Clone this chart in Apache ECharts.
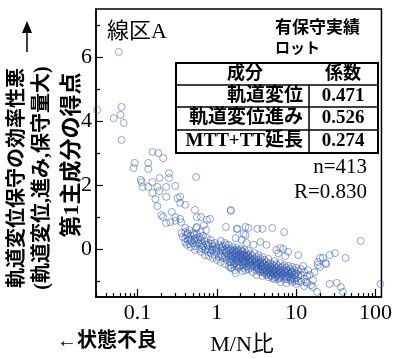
<!DOCTYPE html>
<html>
<head>
<meta charset="utf-8">
<script src="https://cdn.jsdelivr.net/npm/echarts@6/dist/echarts.min.js"></script>
<style>
  html, body { margin: 0; padding: 0; background: #fff; }
  #chart { width: 395px; height: 358px; }
</style>
</head>
<body>
<div id="chart"></div>
<script>
// M/N ratio vs. first principal component score
const points = [
  [0.031, 4.34], [0.05, 4.09], [0.063, 4.44], [0.061, 4.19], [0.067, 3.94], [0.063, 3.41], [0.058, 6.16],
  [0.154, 3.03], [0.183, 3.0], [0.21, 2.84], [0.092, 2.69], [0.089, 2.53], [0.137, 2.69], [0.137, 2.5],
  [0.25, 2.37], [0.25, 2.22], [0.55, 2.25], [0.11, 2.16], [0.113, 2.09], [0.154, 2.09], [0.19, 2.22],
  [0.116, 1.94], [0.137, 1.94], [0.178, 1.94], [0.23, 1.94], [0.3, 1.97], [0.154, 1.75], [0.188, 1.81],
  [0.168, 1.56], [0.23, 1.63], [0.178, 1.34], [0.345, 1.63], [0.345, 1.44], [0.4, 1.38], [0.2, 1.06],
  [0.21, 1.0], [0.27, 1.16], [0.3, 1.0], [0.23, 0.81], [0.26, 0.84], [0.3, 0.88], [0.345, 0.94], [0.32, 1.59],
  [0.53, 1.22], [0.56, 1.0], [0.63, 1.0], [0.82, 0.94], [0.4, 0.66], [0.36, 0.5], [0.37, 0.38], [0.55, 0.66],
  [0.69, 0.75], [0.73, 0.59], [0.75, 0.91], [0.56, 0.69], [0.355, 0.84], [1.5, 1.19], [1.3, 0.69],
  [1.78, 0.63], [2.3, 0.69],
  [0.4, 0.53], [0.4, 0.34], [0.4, 0.22], [0.42, 0.44], [0.42, 0.13], [0.45, 0.59], [0.45, 0.31], [0.45, 0.16],
  [0.47, 0.41], [0.47, 0.25], [0.47, 0.06], [0.5, 0.5], [0.5, 0.19], [0.53, 0.34], [0.53, 0.09], [0.53, -0.03],
  [0.56, 0.47], [0.56, 0.25], [0.6, 0.38], [0.6, 0.16], [0.6, 0.0], [0.63, 0.53], [0.63, 0.28], [0.63, -0.09],
  [0.67, 0.41], [0.67, 0.09], [0.71, 0.25], [0.71, -0.03], [0.71, -0.19], [0.75, 0.34], [0.75, 0.13],
  [0.79, 0.19], [0.79, 0.0], [0.79, -0.22], [0.84, 0.28], [0.84, -0.13], [0.89, 0.09], [0.89, -0.03],
  [0.89, -0.28], [0.94, 0.19], [0.94, -0.19], [1.0, 0.03], [1.0, -0.09], [1.0, -0.34], [1.06, 0.13], [1.06, -0.25],
  [1.12, 0.25], [1.12, 0.0], [1.12, -0.16], [1.12, -0.41], [1.19, 0.09], [1.19, -0.06], [1.19, -0.28],
  [1.26, 0.19], [1.26, -0.03], [1.26, -0.22], [1.26, -0.47], [1.33, 0.03], [1.33, -0.13], [1.33, -0.34],
  [1.41, 0.13], [1.41, -0.06], [1.41, -0.19], [1.41, -0.28], [1.41, -0.53], [1.5, 0.0], [1.5, -0.13],
  [1.5, -0.25], [1.5, -0.41], [1.5, -0.59], [1.58, 0.06], [1.58, -0.09], [1.58, -0.22], [1.58, -0.34],
  [1.68, -0.03], [1.68, -0.16], [1.68, -0.28], [1.68, -0.44], [1.68, -0.66], [1.78, 0.03], [1.78, -0.09],
  [1.78, -0.25], [1.78, -0.38], [1.78, -0.53], [1.88, -0.06], [1.88, -0.19], [1.88, -0.31], [1.88, -0.47],
  [1.88, -0.59], [2.0, 0.0], [2.0, -0.16], [2.0, -0.28], [2.0, -0.41], [2.11, -0.09], [2.11, -0.22],
  [2.11, -0.34], [2.11, -0.5], [2.11, -0.69], [2.24, -0.03], [2.24, -0.19], [2.24, -0.31], [2.24, -0.44],
  [2.37, -0.13], [2.37, -0.25], [2.37, -0.41], [2.37, -0.56], [2.51, -0.06], [2.51, -0.22], [2.51, -0.34],
  [2.51, -0.47], [2.51, -0.63],
  [1.5, 1.22], [1.83, 0.63], [2.51, 0.66], [1.73, 0.34], [2.3, 0.44], [2.17, 0.47], [2.05, 0.28], [3.25, 0.63],
  [3.76, 0.63], [2.9, 0.13], [3.55, 0.22], [2.37, 0.19], [1.73, -0.75], [2.3, -0.66], [1.54, -0.59],
  [2.66, -0.16], [2.66, -0.28], [2.66, -0.44], [2.66, -0.59], [2.82, -0.22], [2.82, -0.38], [2.82, -0.5],
  [2.82, -0.72], [2.99, -0.13], [2.99, -0.31], [2.99, -0.44], [2.99, -0.56], [3.16, -0.25], [3.16, -0.41],
  [3.16, -0.53], [3.16, -0.66], [3.16, -0.81], [3.35, -0.19], [3.35, -0.34], [3.35, -0.47], [3.35, -0.63],
  [3.55, -0.31], [3.55, -0.44], [3.55, -0.56], [3.55, -0.72], [3.76, -0.25], [3.76, -0.41], [3.76, -0.53],
  [3.76, -0.66], [3.76, -0.84], [3.98, -0.34], [3.98, -0.5], [3.98, -0.63], [3.98, -0.75], [4.22, -0.41],
  [4.22, -0.53], [4.22, -0.66], [4.22, -0.81], [4.47, -0.31], [4.47, -0.47], [4.47, -0.59], [4.47, -0.72],
  [4.47, -0.88], [4.73, -0.44], [4.73, -0.56], [4.73, -0.69], [4.73, -0.81], [5.01, -0.5], [5.01, -0.63],
  [5.01, -0.75], [5.01, -0.91], [5.31, -0.38], [5.31, -0.53], [5.31, -0.66], [5.31, -0.78], [5.31, -0.94],
  [5.62, -0.47], [5.62, -0.59], [5.62, -0.72], [5.62, -0.84], [5.96, -0.53], [5.96, -0.66], [5.96, -0.78],
  [5.96, -0.94], [6.31, -0.44], [6.31, -0.59], [6.31, -0.72], [6.31, -0.88], [6.31, -1.03], [6.68, -0.56],
  [6.68, -0.69], [6.68, -0.81], [7.08, -0.5], [7.08, -0.66], [7.08, -0.78], [7.08, -0.94], [7.5, -0.59],
  [7.5, -0.75], [7.5, -0.88], [7.5, -1.06], [7.94, -0.53], [7.94, -0.69], [7.94, -0.84], [8.41, -0.63],
  [8.41, -0.78], [8.41, -0.97], [8.91, -0.56], [8.91, -0.72], [8.91, -0.88], [8.91, -1.03], [9.44, -0.66],
  [9.44, -0.81], [9.44, -0.94], [10.0, -0.59], [10.0, -0.75], [10.0, -0.91], [10.0, -1.09], [10.6, -0.69],
  [10.6, -0.84], [10.6, -1.0], [11.5, -0.63], [11.5, -0.81], [11.5, -1.03], [12.6, -0.72], [12.6, -0.94],
  [12.6, -1.16], [13.7, -0.84], [13.7, -1.06],
  [5.0, 0.66], [7.08, 0.53], [4.22, 0.13], [6.31, 0.03], [5.62, -0.03], [7.3, -0.22], [10.6, -0.19],
  [5.96, -0.13], [7.94, -0.09], [6.88, 0.0],
  [20, -0.28], [26.5, -0.19], [30.8, -0.13], [23.7, -0.44], [18.8, -0.5], [21.7, -0.28], [18.8, -0.41],
  [23.7, -0.47], [20, -0.56], [42, -0.28], [65, 0.25], [115, -1.09], [26.5, -1.09], [32.5, -1.06],
  [36.5, -1.19], [38.7, -1.34], [13.3, -1.03], [16.3, -0.97], [16.3, -1.19], [18.3, -1.34], [15.4, -1.13],
  [14.1, -0.66], [14.9, -0.81], [17, -0.72], [12.2, -0.53],
  [1.15, 0.06], [1.15, -0.22], [1.29, -0.09], [1.29, 0.13], [1.45, -0.03], [1.45, -0.41], [1.54, -0.19],
  [1.54, -0.31], [1.63, -0.06], [1.63, -0.5], [1.73, -0.13], [1.73, -0.22], [1.73, -0.34], [1.83, -0.03],
  [1.83, -0.41], [1.94, -0.16], [1.94, -0.25], [1.94, -0.53], [2.05, -0.06], [2.05, -0.31], [2.17, -0.16],
  [2.17, -0.41], [2.17, -0.59], [2.3, -0.25], [2.3, -0.38], [2.44, -0.19], [2.44, -0.53], [2.58, -0.28],
  [2.58, -0.41], [2.74, -0.34], [2.74, -0.53], [3.07, -0.38], [3.07, -0.5], [3.25, -0.47], [3.25, -0.59],
  [3.45, -0.41], [3.45, -0.69], [3.65, -0.53], [3.65, -0.63], [3.87, -0.44], [3.87, -0.72], [4.1, -0.59],
  [4.1, -0.69], [4.34, -0.53], [4.34, -0.78], [4.6, -0.63], [4.6, -0.75], [4.87, -0.56], [4.87, -0.84],
  [5.16, -0.69], [5.16, -0.78], [5.46, -0.63], [5.46, -0.88], [5.79, -0.72], [5.79, -0.81], [6.13, -0.66],
  [6.13, -0.91], [6.5, -0.75], [6.5, -0.84], [7.3, -0.72], [7.3, -0.84], [7.7, -0.66], [7.7, -0.94],
  [8.2, -0.78], [8.2, -0.88], [8.66, -0.72], [8.66, -0.94], [9.7, -0.78], [9.7, -1.0],
  [0.43, 0.5], [0.43, 0.28], [0.52, 0.28], [0.52, 0.44], [0.58, 0.19], [0.58, 0.31], [0.65, 0.16],
  [0.65, 0.03], [0.77, 0.09], [0.77, -0.09], [0.87, 0.16], [0.87, -0.03], [0.97, -0.03], [0.97, 0.06]
];

const xMajorTicks = [0.1, 1, 10, 100];
const xTickLabels = ['0.1', '1', '10', '100'];
const xMinorTicks = [0.03, 0.04, 0.05, 0.06, 0.07, 0.08, 0.09, 0.2, 0.3, 0.4, 0.5, 0.6, 0.7, 0.8, 0.9,
  2, 3, 4, 5, 6, 7, 8, 9, 20, 30, 40, 50, 60, 70, 80, 90];
const yMajorTicks = [0, 2, 4, 6];
const yMinorTicks = [-1, 1, 3, 5, 7];

const tableComponents = ['軌道変位', '軌道変位進み', 'MTT+TT延長'];
const tableCoefficients = ['0.471', '0.526', '0.274'];
const sampleCount = 413;
const corrR = '0.830';

const FONT = '"Liberation Serif", "Noto Sans CJK JP", serif';
const JFONT = '"Liberation Serif", "Noto Sans CJK JP", sans-serif';

const xMin = Math.log10(0.03);
const xMax = 2.075;

function xAxisBase(extra) {
  return Object.assign({
    type: 'value', min: xMin, max: xMax, position: 'bottom',
    splitLine: { show: false },
    axisLine: { show: true, onZero: false, lineStyle: { color: '#000', width: 1.5 } }
  }, extra);
}
function yAxisBase(extra) {
  return Object.assign({
    type: 'value', min: -1.5, max: 7.5, position: 'left',
    splitLine: { show: false },
    axisLine: { show: true, onZero: false, lineStyle: { color: '#000', width: 1.5 } }
  }, extra);
}

const chart = echarts.init(document.getElementById('chart'), null, { renderer: 'canvas' });

// table graphic
const tX0 = 176, tX1 = 378, tDiv = 309;
const rowY = [63, 85, 107, 130, 153];
const tableChildren = [
  { type: 'rect', shape: { x: tX0, y: rowY[0], width: tX1 - tX0, height: rowY[4] - rowY[0] },
    style: { fill: '#fff', stroke: '#000', lineWidth: 2 } },
  { type: 'line', shape: { x1: tDiv, y1: rowY[1], x2: tDiv, y2: rowY[4] }, style: { stroke: '#000', lineWidth: 1.5 } },
  { type: 'text', style: { text: '成分', x: 245, y: 74, align: 'center', verticalAlign: 'middle',
      font: 'bold 18px ' + JFONT, fill: '#000' } },
  { type: 'text', style: { text: '係数', x: 343, y: 74, align: 'center', verticalAlign: 'middle',
      font: 'bold 18px ' + JFONT, fill: '#000' } }
];
for (let i = 1; i < 4; i++) {
  tableChildren.push({ type: 'line', shape: { x1: tX0, y1: rowY[i], x2: tX1, y2: rowY[i] },
    style: { stroke: '#000', lineWidth: 1.5 } });
}
tableComponents.forEach(function (name, i) {
  const cy = (rowY[i + 1] + rowY[i + 2]) / 2;
  tableChildren.push({ type: 'text', style: { text: name, x: 303, y: cy, align: 'right', verticalAlign: 'middle',
    font: 'bold 19px ' + JFONT, fill: '#000' } });
  tableChildren.push({ type: 'text', style: { text: tableCoefficients[i], x: 343, y: cy, align: 'center',
    verticalAlign: 'middle', font: 'bold 19px ' + FONT, fill: '#000' } });
});

function vText(text, x, y, size) {
  return { type: 'text', x: x, y: y, rotation: Math.PI / 2,
    style: { text: text, x: 0, y: 0, align: 'center', verticalAlign: 'middle',
      font: 'bold ' + size + 'px ' + JFONT, fill: '#000' } };
}

const option = {
  animation: false,
  grid: { left: 96, right: 11, top: 9, bottom: 61, show: true, borderColor: '#000', borderWidth: 1.5,
    backgroundColor: 'transparent' },
  xAxis: [
    xAxisBase({
      axisTick: { show: true, inside: true, length: 8, customValues: xMajorTicks.map(Math.log10),
        lineStyle: { color: '#000', width: 1.2 } },
      axisLabel: { show: true, margin: 5, customValues: xMajorTicks.map(Math.log10),
        color: '#000', fontSize: 22, fontFamily: FONT,
        formatter: function (v) { return xTickLabels[Math.round(v) + 1]; } }
    }),
    xAxisBase({
      axisLine: { show: false, onZero: false },
      axisTick: { show: true, inside: true, length: 4, customValues: xMinorTicks.map(Math.log10),
        lineStyle: { color: '#000', width: 1.2 } },
      axisLabel: { show: false }
    })
  ],
  yAxis: [
    yAxisBase({
      axisTick: { show: true, inside: true, length: 7, customValues: yMajorTicks,
        lineStyle: { color: '#000', width: 1.2 } },
      axisLabel: { show: true, margin: 4, customValues: yMajorTicks, color: '#000',
        fontSize: 22, fontFamily: FONT }
    }),
    yAxisBase({
      axisLine: { show: false, onZero: false },
      axisTick: { show: true, inside: true, length: 4, customValues: yMinorTicks,
        lineStyle: { color: '#000', width: 1.2 } },
      axisLabel: { show: false }
    })
  ],
  series: [{
    type: 'scatter',
    xAxisIndex: 0, yAxisIndex: 0,
    symbol: 'circle',
    symbolSize: 7,
    itemStyle: { color: 'rgba(255,255,255,0)', borderColor: 'rgba(50,90,175,0.75)', borderWidth: 0.9 },
    data: points.map(function (p) { return [Math.log10(p[0]), p[1]]; })
  }],
  graphic: [
    { type: 'text', style: { text: '線区A', x: 107, y: 32, verticalAlign: 'middle',
        font: '22px ' + JFONT, fill: '#000' } },
    { type: 'text', style: { text: '有保守実績', x: 275, y: 29, verticalAlign: 'middle',
        font: 'bold 17px ' + JFONT, fill: '#000' } },
    { type: 'text', style: { text: 'ロット', x: 275, y: 49, verticalAlign: 'middle',
        font: 'bold 15px ' + JFONT, fill: '#000' } },
    { type: 'group', children: tableChildren },
    { type: 'text', style: { text: 'n=' + sampleCount, x: 367, y: 167, align: 'right', verticalAlign: 'middle',
        font: '21px ' + FONT, fill: '#000' } },
    { type: 'text', style: { text: 'R=' + corrR, x: 367, y: 192, align: 'right', verticalAlign: 'middle',
        font: '21px ' + FONT, fill: '#000' } },
    vText('軌道変位保守の効率性悪', 18, 178, 20),
    { type: 'line', shape: { x1: 27, y1: 52, x2: 27, y2: 30 }, style: { stroke: '#000', lineWidth: 1.5 } },
    { type: 'polygon', shape: { points: [[22, 33], [32, 33], [27, 21]] }, style: { fill: '#000' } },
    vText('(軌道変位,進み,保守量大)', 43, 178, 20),
    vText('第1主成分の得点', 72, 155, 22),
    { type: 'text', style: { text: 'M/N比', x: 242, y: 345, align: 'center', verticalAlign: 'middle',
        font: '22px ' + JFONT, fill: '#000' } },
    { type: 'text', style: { text: '←状態不良', x: 57, y: 342, verticalAlign: 'middle',
        font: 'bold 20px ' + JFONT, fill: '#000' } }
  ]
};

chart.setOption(option);
</script>
</body>
</html>
